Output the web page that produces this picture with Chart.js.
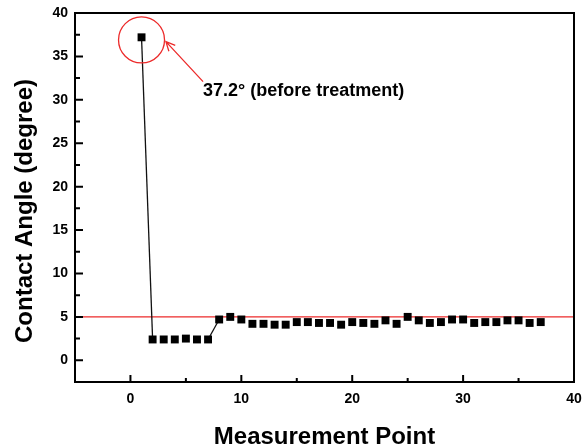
<!DOCTYPE html>
<html>
<head>
<meta charset="utf-8">
<script src="https://cdn.jsdelivr.net/npm/chart.js@4.4.1/dist/chart.umd.min.js"></script>
<style>
  body { margin: 0; background: #fff; }
</style>
</head>
<body>
<canvas id="angleChart" width="584" height="448"></canvas>
<script>
// data
const measurementPoints = [1, 2, 3, 4, 5, 6, 7, 8, 9, 10, 11, 12, 13, 14, 15, 16, 17, 18, 19,
  20, 21, 22, 23, 24, 25, 26, 27, 28, 29, 30, 31, 32, 33, 34, 35, 36, 37];
const contactAngles = [37.2, 2.4, 2.4, 2.4, 2.5, 2.4, 2.4, 4.7, 5.0, 4.7, 4.2, 4.2, 4.1, 4.1, 4.4,
  4.4, 4.3, 4.3, 4.1, 4.4, 4.3, 4.2, 4.6, 4.2, 5.0, 4.6, 4.3, 4.4, 4.7, 4.7, 4.3, 4.4, 4.4,
  4.6, 4.6, 4.3, 4.4];
const referenceAngle = 5;
const xRange = [-5, 40];
const yRange = [-2.5, 40];
const xTicks = [0, 10, 20, 30, 40];
const xMinorTicks = [5, 15, 25, 35];
const yTicks = [0, 5, 10, 15, 20, 25, 30, 35, 40];
const yMinorTicks = [2.5, 7.5, 12.5, 17.5, 22.5, 27.5, 32.5, 37.5];
const yTitle = "Contact Angle (degree)";
const noteText = "37.2\u00b0 (before treatment)";

const RED = "#ec2a2a";
const FONT = "'Liberation Sans', Arial, sans-serif";
Chart.defaults.font.family = FONT;
Chart.defaults.color = "#000";

// box, inward ticks, y title, red circle + arrow + note
const frameAndNote = {
  id: "frameAndNote",
  afterDraw(chart) {
    const { ctx, chartArea: a, scales: { x, y } } = chart;
    ctx.save();
    ctx.strokeStyle = "#000";
    ctx.lineWidth = 2;
    ctx.strokeRect(a.left, a.top, a.right - a.left, a.bottom - a.top);

    ctx.beginPath();
    xTicks.forEach(v => { const px = x.getPixelForValue(v); ctx.moveTo(px, a.bottom); ctx.lineTo(px, a.bottom - 7); });
    xMinorTicks.forEach(v => { const px = x.getPixelForValue(v); ctx.moveTo(px, a.bottom); ctx.lineTo(px, a.bottom - 4); });
    yTicks.forEach(v => { const py = y.getPixelForValue(v); ctx.moveTo(a.left, py); ctx.lineTo(a.left + 8, py); });
    yMinorTicks.forEach(v => { const py = y.getPixelForValue(v); ctx.moveTo(a.left, py); ctx.lineTo(a.left + 5, py); });
    ctx.stroke();

    // y axis title, sits a bit below the middle in the figure
    ctx.fillStyle = "#000";
    ctx.font = "bold 24px " + FONT;
    ctx.textAlign = "center";
    ctx.textBaseline = "middle";
    ctx.translate(25, 211);
    ctx.rotate(-Math.PI / 2);
    ctx.fillText(yTitle, 0, 0);
    ctx.setTransform(1, 0, 0, 1, 0, 0);

    // circle around the first point
    ctx.strokeStyle = RED;
    ctx.lineWidth = 1.3;
    ctx.beginPath();
    ctx.arc(x.getPixelForValue(1), y.getPixelForValue(36.9), 23, 0, Math.PI * 2);
    ctx.stroke();

    // arrow from the note to the circle
    const tx = x.getPixelForValue(6.55), ty = y.getPixelForValue(32.1);
    const hx = x.getPixelForValue(3.2), hy = y.getPixelForValue(36.7);
    const ang = Math.atan2(hy - ty, hx - tx);
    ctx.beginPath();
    ctx.moveTo(tx, ty);
    ctx.lineTo(hx, hy);
    ctx.moveTo(hx - 10 * Math.cos(ang - 0.45), hy - 10 * Math.sin(ang - 0.45));
    ctx.lineTo(hx, hy);
    ctx.lineTo(hx - 10 * Math.cos(ang + 0.45), hy - 10 * Math.sin(ang + 0.45));
    ctx.stroke();

    ctx.font = "bold 18px " + FONT;
    ctx.textAlign = "left";
    ctx.fillText(noteText, x.getPixelForValue(6.55), y.getPixelForValue(31.0));
    ctx.restore();
  }
};

new Chart(document.getElementById("angleChart"), {
  type: "line",
  data: {
    datasets: [
      {
        data: measurementPoints.map((p, i) => ({ x: p, y: contactAngles[i] })),
        borderColor: "#111",
        borderWidth: 1.3,
        pointStyle: "rect",
        pointRadius: 5.6,
        pointBackgroundColor: "#000",
        pointBorderWidth: 0,
        // only the big jumps show a connecting line in the figure
        segment: {
          borderColor: c => Math.abs(c.p1.parsed.y - c.p0.parsed.y) > 1 ? "#111" : "rgba(0,0,0,0)"
        }
      },
      {
        data: [{ x: xRange[0], y: referenceAngle }, { x: xRange[1], y: referenceAngle }],
        borderColor: RED,
        borderWidth: 1.2,
        pointRadius: 0
      }
    ]
  },
  options: {
    responsive: false,
    animation: false,
    devicePixelRatio: 1,
    layout: { padding: 0 },
    plugins: { legend: { display: false }, tooltip: { enabled: false } },
    scales: {
      x: {
        type: "linear",
        min: xRange[0],
        max: xRange[1],
        afterBuildTicks: s => { s.ticks = xTicks.map(v => ({ value: v })); },
        afterFit: s => { s.height = 66; s.paddingLeft = 0; s.paddingRight = 10; },
        grid: { display: false, drawTicks: false },
        border: { display: false },
        ticks: { padding: 9, maxRotation: 0, font: { size: 14, weight: "bold" } },
        title: {
          display: true,
          text: "Measurement Point",
          padding: 0,
          font: { size: 24, weight: "bold", lineHeight: 0.9 }
        }
      },
      y: {
        type: "linear",
        min: yRange[0],
        max: yRange[1],
        afterBuildTicks: s => { s.ticks = yTicks.map(v => ({ value: v })); },
        afterFit: s => { s.width = 75; s.paddingTop = 13; s.paddingBottom = 0; },
        grid: { display: false, drawTicks: false },
        border: { display: false },
        ticks: { padding: 7, font: { size: 14, weight: "bold" } },
        title: { display: false }
      }
    }
  },
  plugins: [frameAndNote]
});
</script>
</body>
</html>
